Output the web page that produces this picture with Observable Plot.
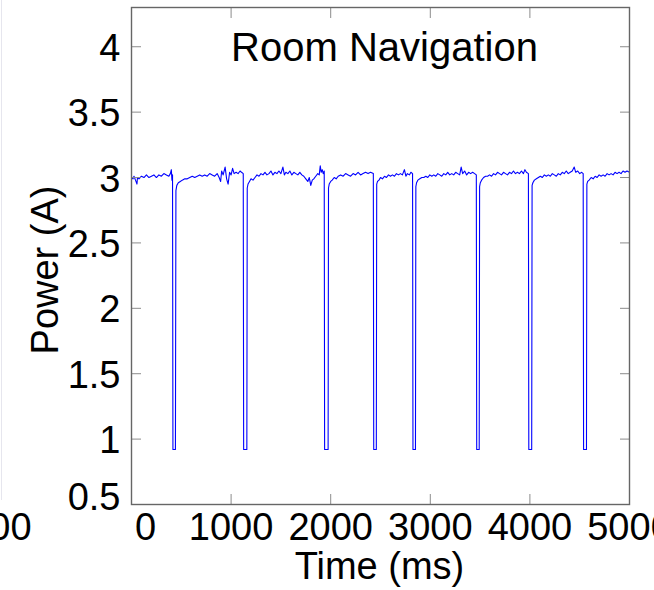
<!DOCTYPE html>
<html>
<head>
<meta charset="utf-8">
<script src="https://cdn.jsdelivr.net/npm/d3@7"></script>
<script src="https://cdn.jsdelivr.net/npm/@observablehq/plot@0.6"></script>
<style>
  html, body { margin: 0; padding: 0; background: #fff; }
  #wrap { position: relative; width: 654px; height: 590px; overflow: hidden; background: #fff; }
  #wrap svg { position: absolute; left: 0; top: 0; }
  #neighbor { position: absolute; left: -53px; top: 508px; font: 38px/38px "Liberation Sans", Arial, sans-serif; color: #000; white-space: nowrap; }
  #edge { position: absolute; left: 1px; top: 0; width: 1px; height: 500px; background: #e6e6ee; }
</style>
</head>
<body>
<div id="wrap"><div id="edge"></div><span id="neighbor">5000</span></div>
<script>
// ---- data ----
const titleText = "Room Navigation";
const xLabel = "Time (ms)";
const yLabel = "Power (A)";
const xTicks = [0, 1000, 2000, 3000, 4000, 5000];
const yTicks = [1, 1.5, 2, 2.5, 3, 3.5, 4];
const yTickBottom = [0.5];

const timeMs = [
  0, 15, 25, 40, 55, 60, 75, 100, 125, 150, 175, 200, 225, 250, 275, 300, 325, 350, 375, 390, 400, 406, 412,
  416, 441, 446,
  455, 470, 490, 510, 535, 560, 585, 610, 635, 660, 685, 710, 735, 760, 785, 810, 835, 860, 880, 895, 905, 920, 940, 955, 970, 985, 1000, 1015, 1030, 1050, 1070, 1090, 1105, 1122,
  1126, 1158, 1162,
  1170, 1185, 1200, 1220, 1240, 1260, 1280, 1300, 1320, 1340, 1360, 1380, 1400, 1420, 1440, 1460, 1480, 1500, 1520, 1535, 1550, 1570, 1590, 1610, 1630, 1650, 1670, 1690, 1710, 1730, 1750, 1770, 1785, 1800, 1815, 1830, 1850, 1870, 1885, 1895, 1905, 1915, 1925, 1935,
  1939, 1974, 1978,
  1985, 2000, 2015, 2035, 2055, 2075, 2100, 2125, 2150, 2175, 2200, 2225, 2250, 2275, 2300, 2325, 2350, 2375, 2400, 2428,
  2432, 2458, 2462,
  2470, 2485, 2500, 2520, 2540, 2560, 2580, 2600, 2620, 2640, 2660, 2680, 2700, 2720, 2740, 2755, 2770, 2790, 2805, 2822,
  2826, 2851, 2855,
  2862, 2875, 2895, 2915, 2935, 2955, 2975, 2995, 3015, 3035, 3055, 3075, 3095, 3115, 3135, 3155, 3175, 3195, 3215, 3235, 3255, 3275, 3295, 3310, 3325, 3345, 3365, 3385, 3405, 3425, 3445, 3462,
  3466, 3491, 3495,
  3502, 3515, 3535, 3555, 3575, 3595, 3615, 3635, 3655, 3675, 3695, 3715, 3735, 3755, 3775, 3795, 3815, 3835, 3855, 3875, 3895, 3915, 3935, 3950, 3965, 3985,
  3989, 4018, 4022,
  4030, 4045, 4065, 4085, 4105, 4125, 4145, 4165, 4185, 4205, 4225, 4245, 4265, 4285, 4305, 4325, 4345, 4365, 4385, 4405, 4425, 4445, 4460, 4480, 4500, 4520, 4535,
  4539, 4568, 4572,
  4580, 4595, 4615, 4635, 4655, 4675, 4695, 4715, 4735, 4755, 4775, 4795, 4815, 4835, 4855, 4875, 4895, 4915, 4935, 4955, 4975, 5000
];

const powerA = [
  3.00, 2.99, 3.01, 2.98, 2.95, 3.00, 2.99, 3.01, 3.00, 3.02, 3.00, 3.01, 3.02, 3.00, 3.02, 3.01, 3.03, 3.02, 3.01, 3.03, 3.06, 2.98, 3.02,
  0.92, 0.92, 2.90,
  2.94, 2.96, 2.97, 2.98, 2.99, 2.99, 3.00, 3.01, 3.00, 3.01, 3.02, 3.01, 3.02, 3.01, 3.03, 3.02, 3.01, 3.03, 3.00, 2.97, 3.05, 3.02, 3.08, 2.99, 2.95, 3.04, 3.02, 3.07, 3.03, 3.04, 3.03, 3.05, 3.04, 3.03,
  0.92, 0.92, 2.92,
  2.95, 2.97, 2.99, 2.98, 3.00, 3.02, 3.01, 3.03, 3.02, 3.04, 3.02, 3.03, 3.05, 3.02, 3.04, 3.03, 3.05, 3.03, 3.08, 3.02, 3.04, 3.03, 3.05, 3.02, 3.04, 3.03, 3.02, 3.04, 3.02, 3.01, 2.99, 2.97, 3.00, 2.94, 2.98, 2.99, 3.01, 3.03, 3.02, 3.09, 3.04, 3.06, 3.03, 3.05,
  0.92, 0.92, 2.92,
  2.95, 2.97, 2.98, 3.00, 2.99, 3.01, 3.02, 3.01, 3.03, 3.02, 3.01, 3.03, 3.02, 3.04, 3.02, 3.03, 3.04, 3.03, 3.04, 3.03,
  0.92, 0.92, 2.95,
  2.97, 2.98, 3.00, 2.99, 3.01, 3.00, 3.02, 3.01, 3.02, 3.01, 3.03, 3.02, 3.03, 3.02, 3.06, 3.01, 3.03, 3.02, 3.04, 3.03,
  0.92, 0.92, 2.93,
  2.96, 2.98, 2.99, 3.00, 3.00, 3.01, 3.00, 3.02, 3.01, 3.02, 3.01, 3.03, 3.02, 3.01, 3.03, 3.02, 3.04, 3.02, 3.03, 3.02, 3.04, 3.03, 3.02, 3.08, 3.03, 3.05, 3.02, 3.04, 3.03, 3.04, 3.03, 3.02,
  0.92, 0.92, 2.93,
  2.96, 2.98, 3.00, 3.01, 3.01, 3.02, 3.01, 3.03, 3.02, 3.04, 3.03, 3.02, 3.04, 3.03, 3.02, 3.04, 3.03, 3.05, 3.03, 3.04, 3.03, 3.05, 3.03, 3.06, 3.04, 3.03,
  0.92, 0.92, 2.94,
  2.96, 2.98, 2.99, 3.00, 3.01, 3.00, 3.02, 3.01, 3.02, 3.01, 3.03, 3.02, 3.01, 3.03, 3.02, 3.04, 3.03, 3.05, 3.03, 3.04, 3.05, 3.08, 3.04, 3.05, 3.03, 3.04, 3.03,
  0.92, 0.92, 2.95,
  2.97, 2.98, 3.00, 2.99, 3.01, 3.00, 3.02, 3.01, 3.02, 3.01, 3.03, 3.02, 3.03, 3.02, 3.04, 3.03, 3.04, 3.03, 3.05, 3.04, 3.05, 3.04
];

if (timeMs.length !== powerA.length) throw new Error("length mismatch " + timeMs.length + " vs " + powerA.length);
const trace = timeMs.map((t, i) => ({t, v: powerA[i]}));

const FONT = "'Liberation Sans', Arial, Helvetica, sans-serif";
const fmt = d => String(d);

const chart = Plot.plot({
  width: 654,
  height: 590,
  marginLeft: 131,
  marginRight: 25,
  marginTop: 7,
  marginBottom: 86,
  style: {fontFamily: FONT, background: "transparent", color: "#000", overflow: "visible"},
  x: {domain: [0, 5000]},
  y: {domain: [0.5, 4.3]},
  marks: [
    Plot.line(trace, {x: "t", y: "v", stroke: "#0000ff", strokeWidth: 1.1}),
    // inward tick marks on all four sides
    Plot.axisX(xTicks, {anchor: "bottom", tickSize: -10, text: null, stroke: "#8c8c8c", label: null}),
    Plot.axisX(xTicks, {anchor: "top", tickSize: -10, text: null, stroke: "#8c8c8c", label: null}),
    Plot.axisY(yTicks.concat(yTickBottom), {anchor: "left", tickSize: -10, text: null, stroke: "#8c8c8c", label: null}),
    Plot.axisY(yTicks.concat(yTickBottom), {anchor: "right", tickSize: -10, text: null, stroke: "#8c8c8c", label: null}),
    Plot.frame({stroke: "#666666", strokeWidth: 1.4}),
    // tick labels
    Plot.axisX(xTicks.slice(1), {anchor: "bottom", tickSize: 0, tickPadding: 9, fontSize: 38, tickFormat: fmt, label: null, fill: "#000"}),
    Plot.axisX(xTicks.slice(0, 1), {anchor: "bottom", tickSize: 0, tickPadding: 9, dx: 14, fontSize: 38, tickFormat: fmt, label: null, fill: "#000"}),
    Plot.axisY(yTicks, {anchor: "left", tickSize: 0, tickPadding: 11, dy: 2, fontSize: 38, tickFormat: fmt, label: null, fill: "#000"}),
    Plot.axisY(yTickBottom, {anchor: "left", tickSize: 0, tickPadding: 11, dy: -7, fontSize: 38, tickFormat: fmt, label: null, fill: "#000"}),
    // title and axis labels
    Plot.text([titleText], {frameAnchor: "top", lineAnchor: "top", dx: 4, dy: 25, fontSize: 40, fill: "#000"}),
    Plot.text([xLabel], {frameAnchor: "bottom", lineAnchor: "bottom", dx: -1, dy: 74, fontSize: 38, fill: "#000"}),
    Plot.text([yLabel], {frameAnchor: "left", lineAnchor: "bottom", textAnchor: "middle", rotate: -90, dx: -74, dy: 14, fontSize: 38, fill: "#000"})
  ]
});

document.getElementById("wrap").appendChild(chart);
</script>
</body>
</html>
